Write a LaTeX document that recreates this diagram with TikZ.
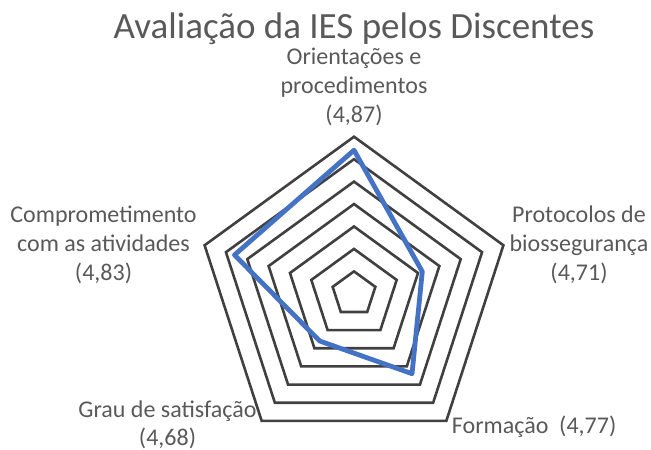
\documentclass[tikz,border=0pt]{standalone}
\usepackage{fontspec}
\setmainfont{Carlito}
\definecolor{txt}{HTML}{595959}
\definecolor{gridc}{HTML}{404040}
\definecolor{ser}{HTML}{4472C4}
\begin{document}
\begin{tikzpicture}[x=1pt,y=-1pt,
  ring/.style={draw=gridc,line width=2.6pt,line join=miter},
  series/.style={draw=ser,line width=4.8pt,line join=round},
  lbl/.style={text=txt,font=\fontsize{24}{29}\selectfont,inner sep=0pt},
  ttl/.style={text=txt,font=\fontsize{37}{44}\selectfont,inner sep=0pt,anchor=base}]
\useasboundingbox (0,0) rectangle (651,450);
\def\cx{354}
\def\cy{293.8}
\def\st{22.44}
% grid rings
\foreach \k in {1,...,7}{
  \foreach \a [count=\i] in {90,18,-54,-126,162}{
    \coordinate (g\k-\i) at ({\cx+\k*\st*cos(\a)},{\cy-\k*\st*sin(\a)});
  }
  \draw[ring] (g\k-1) -- (g\k-2) -- (g\k-3) -- (g\k-4) -- (g\k-5) -- cycle;
}
% data series
\foreach \a/\v/\n in {90/4.87/d1,18/4.71/d2,-54/4.77/d3,-126/4.68/d4,162/4.83/d5}{
  \coordinate (\n) at ({\cx+(\v-4.55)/0.05*\st*cos(\a)},{\cy-(\v-4.55)/0.05*\st*sin(\a)});
}
\draw[series] (d1) -- (d2) -- (d3) -- (d4) -- (d5) -- cycle;
% title
\node[ttl] (title) at (354,38.5) {Avaliação da IES pelos Discentes};
% labels
\node[lbl,anchor=base] (t1) at (354,64) {Orientações e};
\node[lbl,anchor=base] (t2) at (354,93.5) {procedimentos};
\node[lbl,anchor=base] (t3) at (354,122) {(4,87)};
\node[lbl,anchor=base] (l1) at (103.5,222) {Comprometimento};
\node[lbl,anchor=base] (l2) at (103.5,251) {com as atividades};
\node[lbl,anchor=base] (l3) at (103.5,280) {(4,83)};
\node[lbl,anchor=base] (r1) at (579,222) {Protocolos de};
\node[lbl,anchor=base] (r2) at (579,251) {biossegurança};
\node[lbl,anchor=base] (r3) at (579,280) {(4,71)};
\node[lbl,anchor=base] (b1) at (167.5,417) {Grau de satisfação};
\node[lbl,anchor=base] (b2) at (167.5,445) {(4,68)};
\node[lbl,anchor=base west] (f1) at (451.7,433) {Formação\ \ (4,77)};
\end{tikzpicture}
\end{document}
